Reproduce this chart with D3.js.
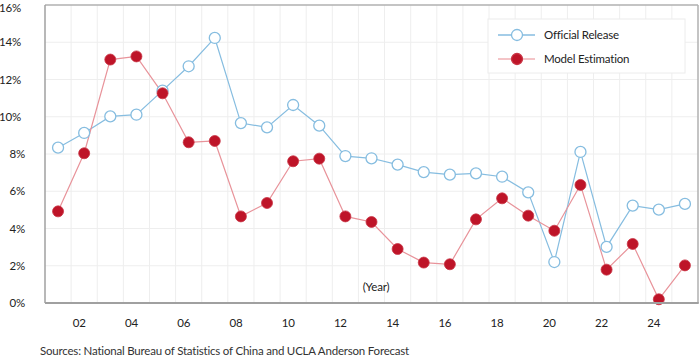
<!DOCTYPE html>
<html><head><meta charset="utf-8">
<script src="https://cdn.jsdelivr.net/npm/d3@7"></script>
<style>
html,body{margin:0;padding:0;background:#fff;}
svg{display:block;font-family:Lato,"Open Sans",sans-serif;}
svg text{letter-spacing:-0.2px;}
</style></head>
<body>
<svg id="chart" width="700" height="359"></svg>
<script>
const years = ["2001","2002","2003","2004","2005","2006","2007","2008","2009","2010","2011","2012","2013","2014","2015","2016","2017","2018","2019","2020","2021","2022","2023","2024","2025"];
const tickYears = ["2002","2004","2006","2008","2010","2012","2014","2016","2018","2020","2022","2024"];
const tickLabels = ["02","04","06","08","10","12","14","16","18","20","22","24"];
const yTicks = [0,2,4,6,8,10,12,14,16];
const official = [8.34,9.13,10.02,10.11,11.40,12.71,14.23,9.66,9.43,10.63,9.52,7.89,7.77,7.43,7.03,6.89,6.96,6.78,5.94,2.20,8.11,3.01,5.23,5.01,5.32];
const model = [4.92,8.04,13.07,13.24,11.26,8.63,8.70,4.65,5.37,7.61,7.75,4.65,4.35,2.90,2.17,2.08,4.49,5.62,4.69,3.88,6.34,1.79,3.17,0.20,2.02];
const seriesNames = ["Official Release","Model Estimation"];

const svg = d3.select("#chart");
const L = 45, R = 698, T = 5, B = 303;
const x = d3.scaleBand().domain(years).range([L, R]).padding(0);
const y = d3.scaleLinear().domain([0, 16]).range([B, T]);
const cx = d => x(d) + x.bandwidth() / 2;
const FS = 11.5;

// gridlines
const grid = svg.append("g");
grid.selectAll("line.h").data(yTicks.filter(d => d > 0 && d < 16)).join("line")
  .attr("x1", L).attr("x2", R).attr("y1", d => y(d)).attr("y2", d => y(d))
  .attr("stroke", "#eeeeee").attr("stroke-width", 1);
grid.selectAll("line.v").data(years.slice(1)).join("line")
  .attr("x1", d => x(d)).attr("x2", d => x(d)).attr("y1", T).attr("y2", B)
  .attr("stroke", "#eeeeee").attr("stroke-width", 1);

// frame
svg.append("line").attr("x1", L).attr("x2", R).attr("y1", T).attr("y2", T).attr("stroke", "#b0b0b0").attr("stroke-width", 1.5);
svg.append("line").attr("x1", R).attr("x2", R).attr("y1", T).attr("y2", B).attr("stroke", "#b0b0b0").attr("stroke-width", 1.5);

// y labels
svg.append("g").selectAll("text").data(yTicks).join("text")
  .attr("x", d => d >= 10 ? 21 : 25).attr("y", d => Math.max(y(d), 7.5)).attr("dy", "0.35em")
  .attr("text-anchor", "end").attr("font-size", FS).attr("fill", "#222")
  .text(d => d + "%");

// x labels
svg.append("g").selectAll("text").data(tickYears).join("text")
  .attr("x", d => cx(d) - 5).attr("y", 323).attr("dy", "0.35em")
  .attr("text-anchor", "middle").attr("font-size", FS).attr("fill", "#222")
  .text((d, i) => tickLabels[i]);

// lines
const line = d3.line().x((d, i) => cx(years[i])).y(d => y(d));
svg.append("path").datum(official).attr("d", line).attr("fill", "none").attr("stroke", "#86bde0").attr("stroke-width", 1.2);
svg.append("path").datum(model).attr("d", line).attr("fill", "none").attr("stroke", "#e8939a").attr("stroke-width", 1.2);

// markers
svg.append("g").selectAll("circle").data(official).join("circle")
  .attr("cx", (d, i) => cx(years[i])).attr("cy", d => y(d)).attr("r", 5.5)
  .attr("fill", "#fff").attr("stroke", "#86bde0").attr("stroke-width", 1.3);
svg.append("g").selectAll("circle").data(model).join("circle")
  .attr("cx", (d, i) => cx(years[i])).attr("cy", d => y(d)).attr("r", 5.5)
  .attr("fill", "#be1428").attr("stroke", "#c93545").attr("stroke-width", 0.8);

// axes lines
svg.append("line").attr("x1", L).attr("x2", L).attr("y1", T).attr("y2", B).attr("stroke", "#a0a0a0").attr("stroke-width", 1.5);
svg.append("line").attr("x1", L).attr("x2", R + 0.75).attr("y1", B).attr("y2", B).attr("stroke", "#a0a0a0").attr("stroke-width", 2);

// (Year)
svg.append("text").attr("x", 376).attr("y", 287).attr("dy", "0.35em").attr("text-anchor", "middle")
  .attr("font-size", FS).attr("fill", "#222").text("(Year)");

// legend
const lg = svg.append("g");
lg.append("rect").attr("x", 488).attr("y", 19).attr("width", 197).attr("height", 54)
  .attr("fill", "#fff").attr("stroke", "#ececec");
const lc = [["#86bde0", "#fff", "#86bde0"], ["#f0b0b5", "#be1428", "#c93545"]];
seriesNames.forEach((n, i) => {
  const yy = 35 + i * 24;
  lg.append("line").attr("x1", 498).attr("x2", 535).attr("y1", yy).attr("y2", yy).attr("stroke", lc[i][0]).attr("stroke-width", 1.3);
  lg.append("circle").attr("cx", 517).attr("cy", yy).attr("r", 5.5).attr("fill", lc[i][1]).attr("stroke", lc[i][2]).attr("stroke-width", 1.3);
  lg.append("text").attr("x", 544).attr("y", yy).attr("dy", "0.35em").attr("font-size", FS).attr("fill", "#222").text(n);
});

// sources
svg.append("text").attr("x", 40).attr("y", 351).attr("dy", "0.35em").attr("font-size", FS).attr("fill", "#333")
  .text("Sources: National Bureau of Statistics of China and UCLA Anderson Forecast");
</script>
</body></html>
